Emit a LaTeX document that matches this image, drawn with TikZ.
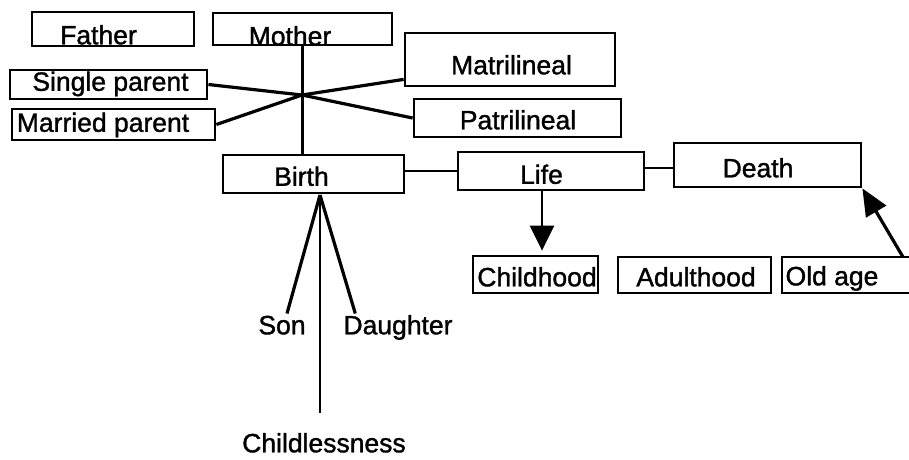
\documentclass[tikz,border=0pt]{standalone}
\usepackage{fontspec}
\setmainfont{Liberation Sans}[BoldFont={Liberation Sans}, BoldFeatures={FakeBold=1.3}]
\usetikzlibrary{arrows.meta}

% A framed box whose caption sits at an offset from the box centre:
% name, centre, width, height, x offset, y offset, caption
\newcommand\capbox[7]{%
  \node[box, minimum width=#3pt, minimum height=#4pt,
        label={[lbl, xshift=#5pt, yshift=#6pt]center:#7}] (#1) at #2 {};}

\begin{document}
\begin{tikzpicture}[x=1pt, y=-1pt,
  box/.style={draw, line width=2.8pt, inner sep=0pt},
  lbl/.style={inner sep=0pt, text height=18.6pt, text depth=0pt,
              font=\fontsize{26.5}{30}\selectfont\bfseries},
  word/.style={inner sep=2pt, text height=18.6pt, text depth=0pt,
               font=\fontsize{26.5}{30}\selectfont\bfseries},
  link/.style={line width=3.2pt},
  thin/.style={line width=2.4pt},
  bigtip/.style={-{Triangle[width=24pt, length=25pt]}}
]
\useasboundingbox (0,0) rectangle (909,459);

% parents and family forms
\capbox{father}{(113,29)}{162}{34}{-14.5}{-6}{Father}
\capbox{mother}{(302.5,29)}{179}{32}{-12.5}{-7}{Mother}
\capbox{single}{(108.5,84.5)}{197}{29}{2}{3}{Single parent}
\capbox{married}{(113.5,124.5)}{203}{31}{-10.5}{2}{Married parent}
\capbox{matri}{(510,59.5)}{210}{53}{1.5}{-5.5}{Matrilineal}
\capbox{patri}{(517.5,118)}{207}{38}{0.5}{-2}{Patrilineal}

% life course
\capbox{birth}{(313.5,174)}{181}{38}{-12}{-2.5}{Birth}
\capbox{life}{(551,171)}{186}{38}{-9.5}{-3.5}{Life}
\capbox{death}{(767.5,165)}{187}{44}{-9.5}{-3}{Death}
\capbox{childhood}{(535.5,274.5)}{125}{37}{1.5}{-2.5}{Childhood}
\capbox{adulthood}{(694.5,275)}{153}{36}{1.5}{-2}{Adulthood}
\capbox{oldage}{(856,275)}{148}{36}{-24}{-1}{Old age}

% outcomes of birth
\node[word] (son) at (282,325) {Son};
\node[word] (daughter) at (398,325) {Daughter};
\node[word] (childless) at (324,443) {Childlessness};

\coordinate (hub) at (302,95);
\coordinate (apex) at (320,195);
\coordinate (oldtop) at (903,257);

% crossing lines through the hub
\draw[thin] (mother.south) -- (mother.south |- birth.north);
\draw[link] (single.east) -- (hub) -- (patri.west);
\draw[link] (married.east) -- (hub) -- ([yshift=8pt]matri.south west);

% birth -- life -- death
\draw[thin] (life.west -| birth.east) -- (life.west);
\draw[thin] ([yshift=3pt]life.east) -- ([yshift=-3pt]death.west);

% arrows
\draw[thin, bigtip, shorten >=4pt]
  ([xshift=-9pt]life.south) -- ([xshift=-9pt]life.south |- childhood.north);
\draw[link, -{Triangle[width=23pt, length=27pt]}] (oldtop) -- (death.south east);

% fan below birth
\draw[link] (apex) -- ([xshift=5pt]son.north);
\draw[link] (apex) -- ([xshift=14pt]daughter.north west);
\draw[thin, shorten >=19pt] (apex) -- (apex |- childless.north);
\end{tikzpicture}
\end{document}
